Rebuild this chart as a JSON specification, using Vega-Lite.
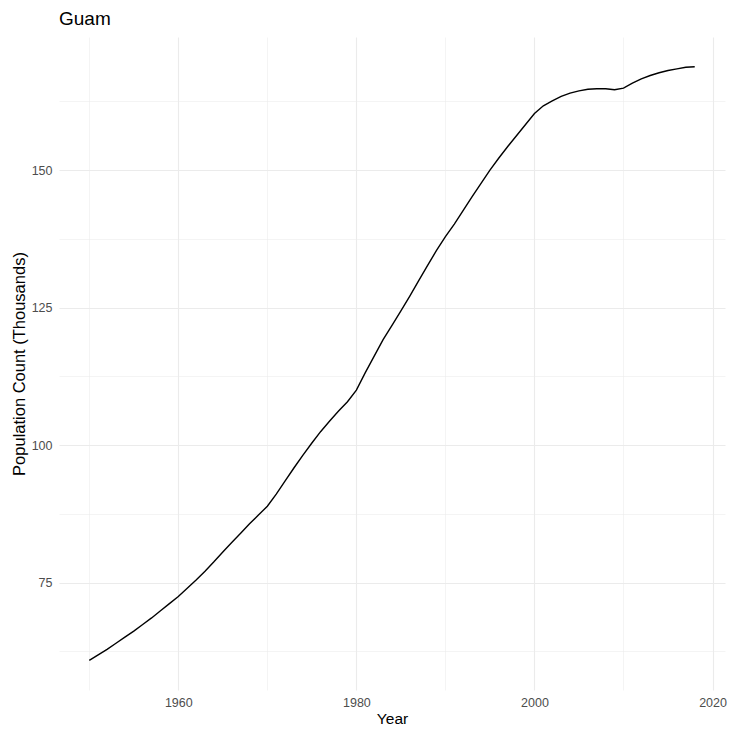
{
  "$schema": "https://vega.github.io/schema/vega-lite/v6.json",
  "width": 666,
  "height": 653,
  "autosize": "none",
  "padding": {"left": 59, "top": 37, "right": 7, "bottom": 40},
  "background": "white",
  "title": {"text": "Guam", "anchor": "start", "frame": "group", "fontSize": 19, "font": "Liberation Sans", "fontWeight": "normal", "color": "black", "offset": 8},
  "config": {
    "view": {"stroke": null},
    "font": "Liberation Sans"
  },
  "data": {
    "values": [
      {"year": 1950, "pop": 60.9}, {"year": 1951, "pop": 61.9}, {"year": 1952, "pop": 62.9}, {"year": 1953, "pop": 64.0},
      {"year": 1954, "pop": 65.1}, {"year": 1955, "pop": 66.2}, {"year": 1956, "pop": 67.4}, {"year": 1957, "pop": 68.6},
      {"year": 1958, "pop": 69.9}, {"year": 1959, "pop": 71.2}, {"year": 1960, "pop": 72.5}, {"year": 1961, "pop": 74.0},
      {"year": 1962, "pop": 75.5}, {"year": 1963, "pop": 77.1}, {"year": 1964, "pop": 78.8}, {"year": 1965, "pop": 80.6},
      {"year": 1966, "pop": 82.3}, {"year": 1967, "pop": 84.0}, {"year": 1968, "pop": 85.7}, {"year": 1969, "pop": 87.3},
      {"year": 1970, "pop": 88.9}, {"year": 1971, "pop": 91.1}, {"year": 1972, "pop": 93.5}, {"year": 1973, "pop": 95.9},
      {"year": 1974, "pop": 98.2}, {"year": 1975, "pop": 100.4}, {"year": 1976, "pop": 102.5}, {"year": 1977, "pop": 104.4},
      {"year": 1978, "pop": 106.2}, {"year": 1979, "pop": 107.9}, {"year": 1980, "pop": 110.0}, {"year": 1981, "pop": 113.2},
      {"year": 1982, "pop": 116.2}, {"year": 1983, "pop": 119.2}, {"year": 1984, "pop": 121.8}, {"year": 1985, "pop": 124.4},
      {"year": 1986, "pop": 127.1}, {"year": 1987, "pop": 129.9}, {"year": 1988, "pop": 132.7}, {"year": 1989, "pop": 135.4},
      {"year": 1990, "pop": 137.9}, {"year": 1991, "pop": 140.2}, {"year": 1992, "pop": 142.7}, {"year": 1993, "pop": 145.2},
      {"year": 1994, "pop": 147.6}, {"year": 1995, "pop": 150.0}, {"year": 1996, "pop": 152.2}, {"year": 1997, "pop": 154.3},
      {"year": 1998, "pop": 156.3}, {"year": 1999, "pop": 158.3}, {"year": 2000, "pop": 160.3}, {"year": 2001, "pop": 161.7},
      {"year": 2002, "pop": 162.6}, {"year": 2003, "pop": 163.4}, {"year": 2004, "pop": 164.0}, {"year": 2005, "pop": 164.4},
      {"year": 2006, "pop": 164.7}, {"year": 2007, "pop": 164.8}, {"year": 2008, "pop": 164.8}, {"year": 2009, "pop": 164.6},
      {"year": 2010, "pop": 164.9}, {"year": 2011, "pop": 165.8}, {"year": 2012, "pop": 166.6}, {"year": 2013, "pop": 167.2},
      {"year": 2014, "pop": 167.7}, {"year": 2015, "pop": 168.1}, {"year": 2016, "pop": 168.4}, {"year": 2017, "pop": 168.7},
      {"year": 2018, "pop": 168.8}
    ]
  },
  "mark": {"type": "line", "color": "black", "strokeWidth": 1.4},
  "encoding": {
    "x": {
      "field": "year", "type": "quantitative",
      "scale": {"domain": [1946.6, 2021.4], "nice": false, "zero": false},
      "axis": {
        "title": "Year", "titleFontSize": 15.5, "titleFontWeight": "normal", "titleColor": "black", "titlePadding": 3,
        "values": [1950, 1960, 1970, 1980, 1990, 2000, 2010, 2020],
        "labelExpr": "datum.value % 20 === 0 ? datum.value : ''",
        "labelFontSize": 12.5, "labelColor": "#4D4D4D", "labelPadding": 6,
        "ticks": false, "domain": false,
        "grid": true, "gridColor": "#EBEBEB",
        "gridWidth": {"condition": {"test": "datum.value % 20 === 0", "value": 1.1}, "value": 0.55}
      }
    },
    "y": {
      "field": "pop", "type": "quantitative",
      "scale": {"domain": [55.5, 174.2], "nice": false, "zero": false},
      "axis": {
        "title": "Population Count (Thousands)", "titleFontSize": 16.5, "titleFontWeight": "normal", "titleColor": "black", "titlePadding": 4,
        "values": [62.5, 75, 87.5, 100, 112.5, 125, 137.5, 150, 162.5],
        "labelExpr": "datum.value % 25 === 0 ? datum.value : ''",
        "labelFontSize": 12.5, "labelColor": "#4D4D4D", "labelPadding": 7,
        "ticks": false, "domain": false,
        "grid": true, "gridColor": "#EBEBEB",
        "gridWidth": {"condition": {"test": "datum.value % 25 === 0", "value": 1.1}, "value": 0.55}
      }
    }
  }
}
